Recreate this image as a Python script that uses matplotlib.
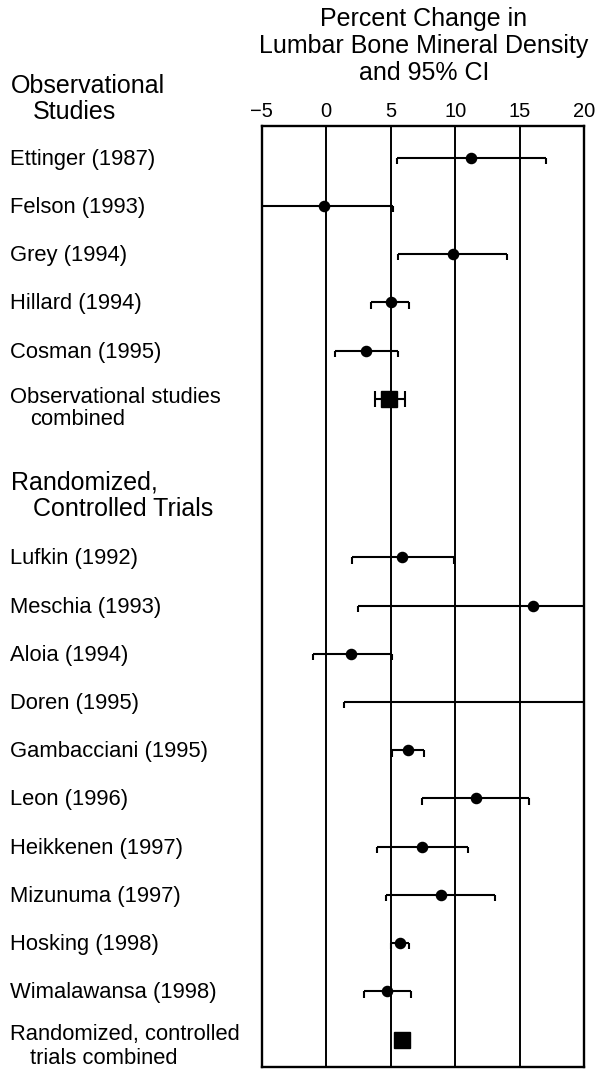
import matplotlib
matplotlib.use("Agg")
import matplotlib.pyplot as plt
import matplotlib.transforms as mtransforms

plt.rcParams['font.family'] = ['Liberation Sans', 'DejaVu Sans']

# ---- data ----
obs_labels = ["Ettinger (1987)", "Felson (1993)", "Grey (1994)", "Hillard (1994)", "Cosman (1995)"]
obs_est = [11.2, -0.15, 9.8, 5.0, 3.1]
obs_lo = [5.45, -5.6, 5.6, 3.5, 0.7]
obs_hi = [17.0, 5.15, 14.0, 6.45, 5.55]
obs_comb_est = 4.9
obs_comb_lo = 3.75
obs_comb_hi = 6.1

rct_labels = ["Lufkin (1992)", "Meschia (1993)", "Aloia (1994)", "Doren (1995)",
              "Gambacciani (1995)", "Leon (1996)", "Heikkenen (1997)", "Mizunuma (1997)",
              "Hosking (1998)", "Wimalawansa (1998)"]
rct_est = [5.9, 16.0, 1.9, 24.0, 6.35, 11.6, 7.45, 8.9, 5.75, 4.7]
rct_lo = [2.0, 2.5, -1.05, 1.4, 5.1, 7.4, 3.9, 4.65, 5.05, 2.95]
rct_hi = [9.9, 29.5, 5.1, 46.0, 7.6, 15.75, 11.0, 13.1, 6.45, 6.6]
rct_comb_est = 5.9
rct_comb_lo = 5.4
rct_comb_hi = 6.4

xticks = [-5, 0, 5, 10, 15, 20]
xticklabels = ["\u22125", "0", "5", "10", "15", "20"]

# ---- layout ----
W, H = 598, 1069
fig = plt.figure(figsize=(W / 100, H / 100), dpi=100)
ax = fig.add_axes([261.7 / W, 1 - 1067 / H, (584.3 - 261.7) / W, (1067 - 126) / H])

obs_rows = list(range(len(obs_labels)))
obs_comb_row = len(obs_labels)
rct_start = 8.29
rct_rows = [rct_start + i for i in range(len(rct_labels))]
rct_comb_row = rct_start + len(rct_labels)

ax.set_xlim(-5, 20)
ax.set_ylim(18.86, -0.66)

for v in [0, 5, 10, 15]:
    ax.axvline(v, color='black', lw=1.4, zorder=1)

for sp in ax.spines.values():
    sp.set_linewidth(1.7)

cap = 0.13
lw = 1.5


def study(row, est, lo, hi):
    ax.hlines(row, lo, hi, color='black', lw=lw, zorder=2)
    ax.vlines([lo, hi], row, row + cap, color='black', lw=lw, zorder=2)
    ax.plot([est], [row], 'o', color='black', ms=7.3, zorder=3)


def combined(row, est, lo, hi):
    ax.errorbar([est], [row], xerr=[[est - lo], [hi - est]], fmt='s', color='black',
                ms=11, elinewidth=lw, capsize=5.5, capthick=lw, zorder=3)


for r, e, l, h in zip(obs_rows, obs_est, obs_lo, obs_hi):
    study(r, e, l, h)
combined(obs_comb_row, obs_comb_est, obs_comb_lo, obs_comb_hi)
for r, e, l, h in zip(rct_rows, rct_est, rct_lo, rct_hi):
    study(r, e, l, h)
combined(rct_comb_row, rct_comb_est, rct_comb_lo, rct_comb_hi)

ax.set_xticks(xticks)
ax.set_xticklabels(xticklabels)
ax.xaxis.tick_top()
ax.tick_params(axis='x', length=0, pad=3.5, labelsize=14.5)
ax.set_yticks([])

# ---- labels ----
tr = mtransforms.blended_transform_factory(fig.transFigure, ax.transData)
lx = 10 / W
ix = 30 / W
fs = 15.8
for r, t in zip(obs_rows, obs_labels):
    ax.text(lx, r + 0.03, t, transform=tr, va='center', ha='left', fontsize=fs, clip_on=False)
for r, t in zip(rct_rows, rct_labels):
    ax.text(lx, r + 0.03, t, transform=tr, va='center', ha='left', fontsize=fs, clip_on=False)

ax.text(lx, obs_comb_row - 0.03, "Observational studies", transform=tr, va='center', ha='left', fontsize=fs, clip_on=False)
ax.text(ix, obs_comb_row + 0.43, "combined", transform=tr, va='center', ha='left', fontsize=fs, clip_on=False)
ax.text(lx, rct_comb_row - 0.1, "Randomized, controlled", transform=tr, va='center', ha='left', fontsize=fs, clip_on=False)
ax.text(ix, rct_comb_row + 0.39, "trials combined", transform=tr, va='center', ha='left', fontsize=fs, clip_on=False)

hfs = 18
ax.text(11 / W, -1.5, "Observational", transform=tr, va='center', ha='left', fontsize=hfs, clip_on=False)
ax.text(33 / W, -0.95, "Studies", transform=tr, va='center', ha='left', fontsize=hfs, clip_on=False)
ax.text(11 / W, 6.74, "Randomized,", transform=tr, va='center', ha='left', fontsize=hfs, clip_on=False)
ax.text(33 / W, 7.28, "Controlled Trials", transform=tr, va='center', ha='left', fontsize=hfs, clip_on=False)

cx = 424 / W
for ypx, t in [(19, "Percent Change in"), (46, "Lumbar Bone Mineral Density"), (73, "and 95% CI")]:
    fig.text(cx, 1 - ypx / H, t, ha='center', va='center', fontsize=18)

fig.savefig("out.png", dpi=100)
